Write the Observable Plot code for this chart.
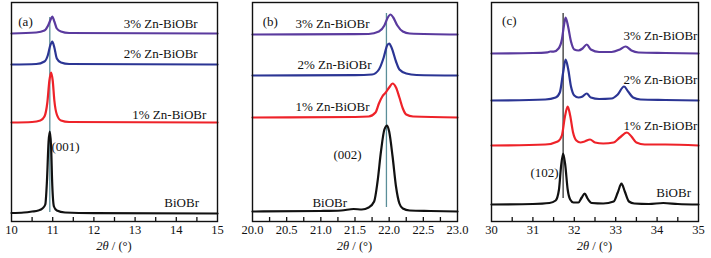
<!DOCTYPE html>
<html>
<head>
<meta charset="utf-8">
<script src="https://cdn.jsdelivr.net/npm/d3@7"></script>
<script src="https://cdn.jsdelivr.net/npm/@observablehq/plot@0.6"></script>
<style>
  html, body { margin: 0; padding: 0; background: #fff; }
  #wrap { position: relative; width: 711px; height: 258px; }
  #wrap > div { position: absolute; top: 0; }
</style>
</head>
<body>
<div id="wrap"><div id="pa" style="left:0"></div><div id="pb" style="left:235px"></div><div id="pc" style="left:470px"></div></div>
<script>
// ---------- series names & colours ----------
const series = ["BiOBr", "1% Zn-BiOBr", "2% Zn-BiOBr", "3% Zn-BiOBr"];
const colors = ["#111111", "#ee2229", "#2b3594", "#5a3a9e"];

// ---------- panel (a): (001) region ----------
const aX0 = [10.0, 10.3, 10.5, 10.65, 10.75, 10.82, 10.86, 10.9, 10.93, 10.96, 10.99, 11.03, 11.1, 11.3, 12.0, 15.0];
const aY0 = [0.5, 1, 2, 3, 5, 9, 32, 72, 82, 68, 28, 7, 3, 1, 0.3, 0];
const aX1 = [10.0, 10.5, 10.7, 10.8, 10.87, 10.92, 10.96, 11.0, 11.04, 11.1, 11.2, 11.4, 15.0];
const aY1 = [0, 0.5, 2, 6, 20, 42, 50, 42, 22, 8, 2, 0.5, 0];
const aX2 = [10.0, 10.6, 10.8, 10.88, 10.94, 10.99, 11.04, 11.1, 11.2, 11.4, 15.0];
const aY2 = [0, 0.5, 3, 9, 19, 23, 17, 6, 2, 0.5, 0];
const aX3 = [10.0, 10.6, 10.8, 10.9, 10.95, 10.99, 11.04, 11.1, 11.2, 11.4, 15.0];
const aY3 = [0, 1, 3, 9, 14, 17, 12, 5, 2, 0.5, 0];
const aOffsets = [8, 99, 157, 188];
const aRefLine = 10.93;

// ---------- panel (b): (002) region ----------
const bX0 = [20.0, 21.0, 21.3, 21.48, 21.6, 21.7, 21.78, 21.83, 21.88, 21.93, 21.97, 22.0, 22.05, 22.1, 22.15, 22.2, 22.3, 22.6, 23.0];
const bY0 = [0, 0.5, 1, 2.5, 2, 4, 10, 30, 60, 82, 86, 80, 55, 25, 8, 3, 1, 0.5, 0];
const bX1 = [20.0, 21.5, 21.7, 21.8, 21.85, 21.9, 21.95, 22.0, 22.05, 22.1, 22.15, 22.2, 22.25, 22.35, 23.0];
const bY1 = [0, 0.5, 1, 5, 14, 21, 25, 30, 34, 30, 20, 9, 3, 1, 0];
const bX2 = [20.0, 21.5, 21.75, 21.85, 21.92, 21.97, 22.0, 22.04, 22.1, 22.15, 22.25, 22.4, 23.0];
const bY2 = [0, 0.3, 1, 6, 18, 30, 32, 27, 14, 6, 2, 0.5, 0];
const bX3 = [20.0, 21.5, 21.7, 21.85, 21.93, 21.98, 22.02, 22.06, 22.12, 22.2, 22.3, 23.0];
const bY3 = [0, 0.3, 0.5, 3, 9, 17, 20, 17, 9, 3, 1, 0];
const bOffsets = [10, 104, 146, 187];
const bRefLine = 21.96;

// ---------- panel (c): (102) region ----------
const cX0 = [30.0, 31.0, 31.4, 31.55, 31.63, 31.68, 31.73, 31.78, 31.84, 31.9, 31.98, 32.1, 32.18, 32.25, 32.32, 32.42, 32.7, 32.95, 33.05, 33.14, 33.22, 33.32, 33.45, 33.8, 34.15, 34.5, 35.0];
const cY0 = [0, 0.5, 1.5, 4, 15, 38, 51, 40, 15, 5, 2, 2, 7, 11, 6, 1.5, 1, 3, 12, 21, 13, 3, 1, 0.5, 1.5, 0.5, 0];
const cX1 = [30.0, 31.3, 31.6, 31.7, 31.77, 31.84, 31.9, 31.97, 32.05, 32.15, 32.25, 32.38, 32.5, 32.7, 32.95, 33.1, 33.27, 33.38, 33.5, 33.7, 34.2, 35.0];
const cY1 = [0, 1, 4, 10, 28, 39, 30, 13, 5, 3, 4, 6, 3, 2, 3, 8, 13, 9, 3, 1, 1, 0];
const cX2 = [30.0, 31.3, 31.55, 31.65, 31.73, 31.79, 31.85, 31.92, 32.0, 32.1, 32.2, 32.3, 32.4, 32.6, 32.9, 33.05, 33.2, 33.3, 33.42, 33.6, 34.2, 35.0];
const cY2 = [0, 1, 3, 8, 28, 41, 32, 14, 5, 3, 4, 7, 3, 1.5, 2, 6, 14, 9, 3, 1, 0.5, 0];
const cX3 = [30.0, 31.0, 31.35, 31.42, 31.5, 31.62, 31.7, 31.75, 31.79, 31.85, 31.92, 32.0, 32.1, 32.2, 32.3, 32.4, 32.6, 32.9, 33.1, 33.24, 33.38, 33.55, 34.2, 35.0];
const cY3 = [0, 0.5, 1.2, 2, 1.8, 5, 14, 28, 36, 27, 12, 4, 3, 5, 9, 4, 1.5, 1.5, 4, 7, 3, 1, 0.5, 0];
const cOffsets = [17, 76, 121, 168];
const cRefLine = 31.73;

// ---------- axes ----------
const aTicks = [10, 11, 12, 13, 14, 15];
const aMinor = [10.5, 11, 11.5, 12, 12.5, 13, 13.5, 14, 14.5];
const bTicks = [20.0, 20.5, 21.0, 21.5, 22.0, 22.5, 23.0];
const bMinor = [20.25, 20.5, 20.75, 21, 21.25, 21.5, 21.75, 22, 22.25, 22.5, 22.75];
const cTicks = [30, 31, 32, 33, 34, 35];
const cMinor = [30.5, 31, 31.5, 32, 32.5, 33, 33.5, 34, 34.5];

// ---------- annotations ----------
const aLabels = ["(a)", "3% Zn-BiOBr", "2% Zn-BiOBr", "1% Zn-BiOBr", "BiOBr", "(001)"];
const aLabelX = [10.34, 13.62, 13.62, 13.83, 14.13, 11.31];
const aLabelY = [200, 198, 168, 107, 19, 75];
const bLabels = ["(b)", "3% Zn-BiOBr", "2% Zn-BiOBr", "1% Zn-BiOBr", "BiOBr", "(002)"];
const bLabelX = [20.26, 21.17, 21.2, 21.17, 21.13, 21.39];
const bLabelY = [200, 198, 157, 115, 19, 67];
const cLabels = ["(c)", "3% Zn-BiOBr", "2% Zn-BiOBr", "1% Zn-BiOBr", "BiOBr", "(102)"];
const cLabelX = [30.43, 34.08, 34.08, 34.08, 34.4, 31.28];
const cLabelY = [201, 186, 142, 96, 29, 49];

const FONT = "'Liberation Serif', 'Times New Roman', serif";

function build(cfg) {
  const rows = [];
  cfg.xs.forEach((xs, i) => xs.forEach((x, j) => rows.push({s: series[i], i, x, y: cfg.ys[i][j] + cfg.offsets[i]})));
  const labels = cfg.labels.map((t, k) => ({t, x: cfg.lx[k], y: cfg.ly[k]}));
  const svg = Plot.plot({
    width: cfg.width, height: 258,
    marginLeft: cfg.ml, marginRight: cfg.mr, marginTop: 2, marginBottom: 37,
    style: {fontFamily: FONT, fontSize: "12px", background: "#fff"},
    x: {domain: cfg.domain, axis: null},
    y: {domain: [0, 219], axis: null},
    marks: [
      Plot.ruleX([cfg.ref], {x: d => d, y1: cfg.refY[0], y2: cfg.refY[1], stroke: cfg.refColor, strokeWidth: 1.3}),
      Plot.line(rows, {x: "x", y: "y", z: "s", stroke: d => colors[d.i], strokeWidth: 2.2, curve: "monotone-x"}),
      Plot.ruleX(cfg.minor, {x: d => d, y1: 0, y2: 4, stroke: "#111", strokeWidth: 1.3}),
      Plot.frame({stroke: "#111", strokeWidth: 1.4}),
      Plot.axisX(cfg.ticks, {tickSize: 0, tickPadding: 4, tickFormat: cfg.fmt, fontSize: 12.5, fill: "#111", label: null}),
      Plot.text(labels, {x: "x", y: "y", text: "t", fontSize: 13, fill: "#111", textAnchor: "middle"})
    ]
  });
  const xs = svg.scale("x");
  const mid = (cfg.domain[0] + cfg.domain[1]) / 2;
  const t = d3.select(svg).append("text")
    .attr("x", xs.apply(mid)).attr("y", 250)
    .attr("text-anchor", "middle")
    .attr("font-family", FONT)
    .attr("font-size", 12.5).attr("fill", "#111");
  t.append("tspan").attr("font-style", "italic").text("2θ");
  t.append("tspan").text(" / (°)");
  document.getElementById(cfg.el).appendChild(svg);
}

build({el: "pa", width: 235, ml: 11, mr: 18, domain: [10, 15], xs: [aX0, aX1, aX2, aX3], ys: [aY0, aY1, aY2, aY3],
  offsets: aOffsets, ref: aRefLine, refY: [9, 204], refColor: "#5b8e99", ticks: aTicks, minor: aMinor, fmt: d3.format("d"),
  labels: aLabels, lx: aLabelX, ly: aLabelY});
build({el: "pb", width: 235, ml: 17, mr: 13, domain: [20, 23], xs: [bX0, bX1, bX2, bX3], ys: [bY0, bY1, bY2, bY3],
  offsets: bOffsets, ref: bRefLine, refY: [14, 208], refColor: "#5b8e99", ticks: bTicks, minor: bMinor, fmt: d3.format(".1f"),
  labels: bLabels, lx: bLabelX, ly: bLabelY});
build({el: "pc", width: 241, ml: 21, mr: 13, domain: [30, 35], xs: [cX0, cX1, cX2, cX3], ys: [cY0, cY1, cY2, cY3],
  offsets: cOffsets, ref: cRefLine, refY: [23, 208], refColor: "#333333", ticks: cTicks, minor: cMinor, fmt: d3.format("d"),
  labels: cLabels, lx: cLabelX, ly: cLabelY});
</script>
</body>
</html>
